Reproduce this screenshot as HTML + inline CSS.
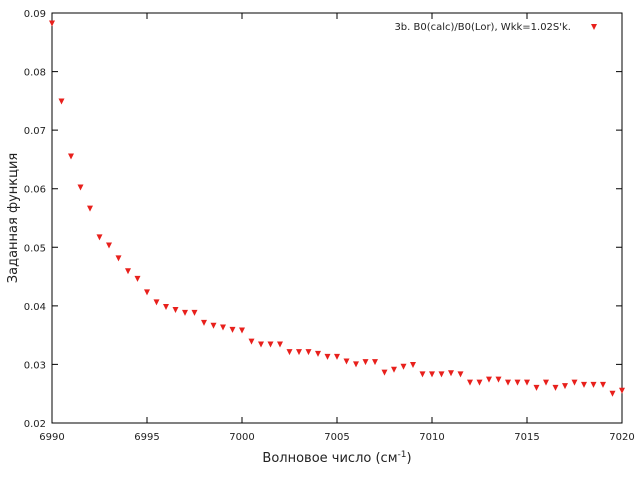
<!DOCTYPE html>
<html><head><meta charset="utf-8"><style>
body{margin:0;background:#fff}
svg text{font-family:"DejaVu Sans","Liberation Sans",sans-serif;fill:#222}
</style></head><body>
<svg id="chart" width="640" height="480" xmlns="http://www.w3.org/2000/svg">
<g id="axes"></g><g id="pts"></g>
<text x="337" y="462" font-size="13" text-anchor="middle">Волновое число (см<tspan dy="-5" font-size="9">-1</tspan><tspan dy="5">)</tspan></text>
<text transform="translate(17,218) rotate(-90)" font-size="13" text-anchor="middle">Заданная функция</text>
<text x="571" y="30" font-size="10" text-anchor="end">3b. B0(calc)/B0(Lor), Wkk=1.02S'k.</text>
<path d="M591,24 L597,24 L594,30 Z" fill="#e8201c"/>
</svg>
<script>
const xTicks=[6990,6995,7000,7005,7010,7015,7020];
const yTicks=[0.02,0.03,0.04,0.05,0.06,0.07,0.08,0.09];
const yTickLabels=["0.02","0.03","0.04","0.05","0.06","0.07","0.08","0.09"];
const xStart=6990, xStep=0.5;
const values=[0.0882,0.0749,0.0655,0.0602,0.0566,0.0517,0.0503,0.0481,0.0459,0.0446,0.0423,0.0406,0.0398,0.0393,0.0388,0.0388,0.0371,0.0366,0.0363,0.0359,0.0358,0.0339,0.0334,0.0334,0.0334,0.0321,0.0321,0.0321,0.0318,0.0313,0.0313,0.0305,0.0300,0.0304,0.0304,0.0286,0.0291,0.0296,0.0299,0.0283,0.0283,0.0283,0.0285,0.0283,0.0269,0.0269,0.0274,0.0274,0.0269,0.0269,0.0269,0.0260,0.0269,0.0260,0.0263,0.0269,0.0265,0.0265,0.0265,0.0250,0.0255];
const L=52,R=622,T=13,B=423;
const X=v=>L+(v-6990)/(7020-6990)*(R-L);
const Y=v=>B-(v-0.02)/(0.09-0.02)*(B-T);
const NS="http://www.w3.org/2000/svg";
const ax=document.getElementById('axes'), pts=document.getElementById('pts');
function mk(tag,attrs,parent){const e=document.createElementNS(NS,tag);for(const k in attrs)e.setAttribute(k,attrs[k]);parent.appendChild(e);return e;}
const frame=mk('rect',{x:L,y:T,width:R-L,height:B-T,fill:'none',stroke:'#000','stroke-width':1},ax);


xTicks.forEach(t=>{const x=X(t);
 const l=mk('path',{d:`M${x},${B}v-6M${x},${T}v6`,stroke:'#000'},ax);
 
 
 const tx=mk('text',{x:x,y:B+17,'font-size':10,'text-anchor':'middle'},ax);tx.textContent=t;
 
 
});
yTicks.forEach((t,i)=>{const y=Y(t);
 const l=mk('path',{d:`M${L},${y}h6M${R},${y}h-6`,stroke:'#000'},ax);
 
 
 const tx=mk('text',{x:L-6,y:y+4,'font-size':10,'text-anchor':'end'},ax);tx.textContent=yTickLabels[i];
 
 
});
values.forEach((v,i)=>{const x=X(xStart+i*xStep),y=Y(v);
 const p=mk('path',{d:`M${x-3},${y-3}L${x+3},${y-3}L${x},${y+3}Z`,fill:'#e8201c'},pts);
 
 
});
</script>
</body></html>
